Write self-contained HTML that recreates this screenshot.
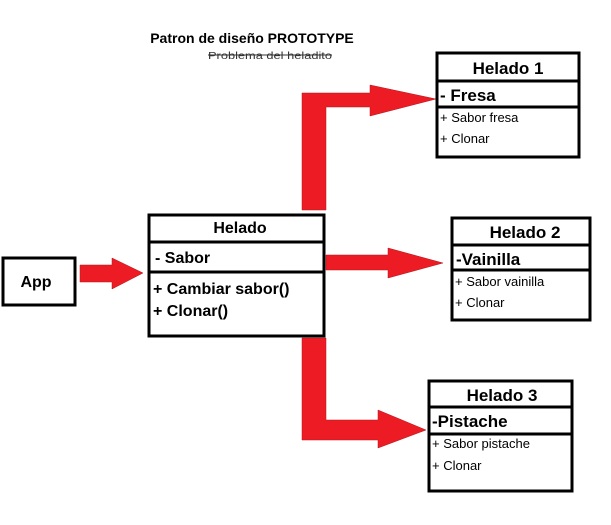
<!DOCTYPE html>
<html><head><style>
body{margin:0;background:#fff}
svg{display:block}
text{font-family:"Liberation Sans",sans-serif}
</style></head><body>
<svg width="611" height="525" viewBox="0 0 611 525" xmlns="http://www.w3.org/2000/svg">
<rect width="611" height="525" fill="#fff"/>
<text x="252" y="43" font-size="14" font-weight="bold" text-anchor="middle">Patron de diseño PROTOTYPE</text>
<text x="270" y="59" font-size="10.5" text-anchor="middle" fill="#333" textLength="124" lengthAdjust="spacingAndGlyphs">Problema del heladito</text>
<line x1="208" y1="55" x2="332" y2="55" stroke="#333" stroke-width="1"/>

<g fill="#ed1c24" stroke="#b0141a" stroke-width="0.5">
<polygon points="80,265 112,265 112,258 143,273 112,289 112,282 80,282"/>
<polygon points="326,255 388,255 388,248 443,263 388,278 388,270 326,270"/>
<polygon points="302,210 302,93 370,93 370,85 436,99 370,116 370,107 326,107 326,210"/>
<polygon points="302,338 302,440 378,440 378,448 426,430 378,410 378,420 326,420 326,338"/>
</g>

<g fill="none" stroke="#000" stroke-width="3">
<rect x="3" y="258" width="72" height="47"/>
<rect x="149" y="215" width="175" height="121"/>
<line x1="149" y1="242" x2="324" y2="242"/>
<line x1="149" y1="272" x2="324" y2="272"/>
<rect x="437" y="53" width="142" height="104"/>
<line x1="437" y1="81" x2="579" y2="81"/>
<line x1="437" y1="107" x2="579" y2="107"/>
<rect x="452" y="218" width="138" height="102"/>
<line x1="452" y1="245" x2="590" y2="245"/>
<line x1="452" y1="270" x2="590" y2="270"/>
<rect x="429" y="381" width="143" height="110"/>
<line x1="429" y1="407" x2="572" y2="407"/>
<line x1="429" y1="434" x2="572" y2="434"/>
</g>

<g font-weight="bold" font-size="16">
<text x="36" y="287" text-anchor="middle">App</text>
<text x="240" y="233" text-anchor="middle">Helado</text>
<text x="155" y="263">- Sabor</text>
<text x="153" y="294">+ Cambiar sabor()</text>
<text x="153" y="316">+ Clonar()</text>
<text x="508" y="74" text-anchor="middle" font-size="17">Helado 1</text>
<text x="440" y="101" font-size="17">- Fresa</text>
<text x="525" y="238" text-anchor="middle" font-size="17">Helado 2</text>
<text x="456" y="265" font-size="17">-Vainilla</text>
<text x="502" y="401" text-anchor="middle" font-size="17">Helado 3</text>
<text x="432" y="427" font-size="17">-Pistache</text>
</g>
<g font-size="13">
<text x="440" y="122">+ Sabor fresa</text>
<text x="440" y="143">+ Clonar</text>
<text x="455" y="286">+ Sabor vainilla</text>
<text x="455" y="307">+ Clonar</text>
<text x="432" y="448">+ Sabor pistache</text>
<text x="432" y="470">+ Clonar</text>
</g>
</svg>
</body></html>
